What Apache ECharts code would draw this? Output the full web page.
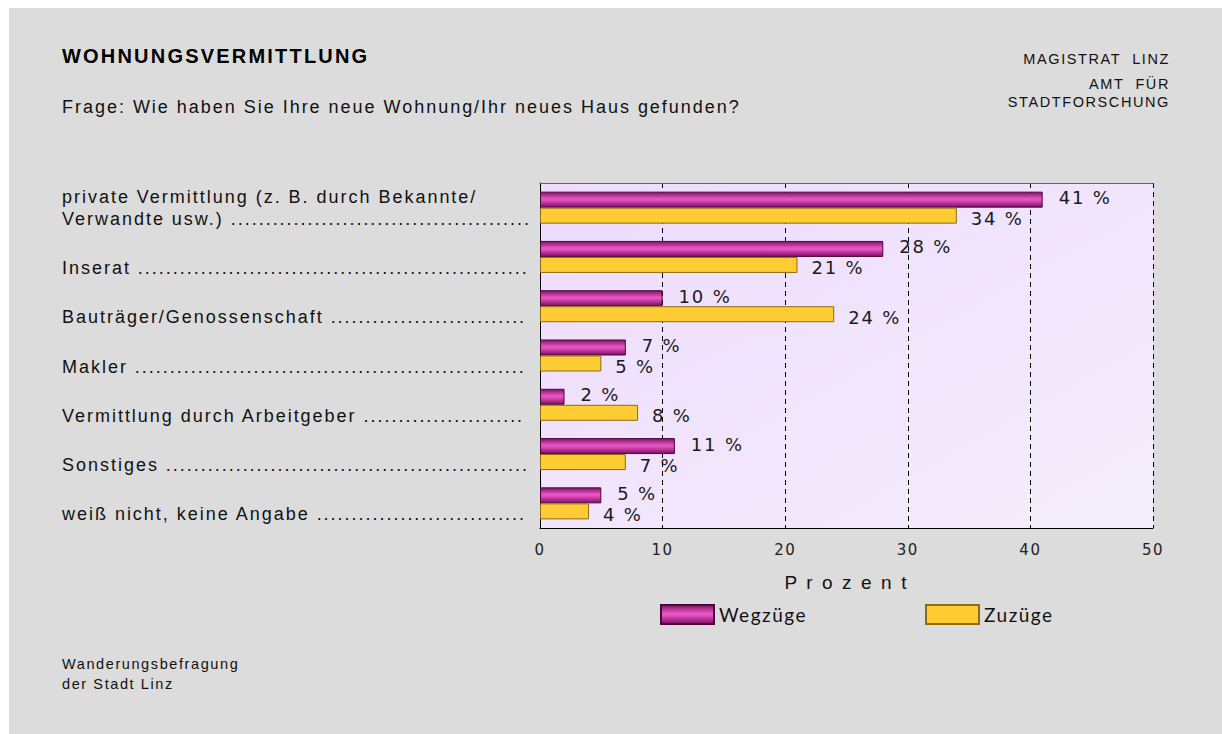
<!DOCTYPE html>
<html>
<head>
<meta charset="utf-8">
<script src="https://cdn.jsdelivr.net/npm/echarts@6/dist/echarts.min.js"></script>
<style>
html, body { margin: 0; padding: 0; background: #fff; }
#chart {
  width: 1222px;
  height: 734px;
  background:
    linear-gradient(#fff, #fff) 0 0 / 100% 8px no-repeat,
    linear-gradient(#fff, #fff) 0 0 / 9px 100% no-repeat,
    #dcdcdc;
}
/* the original print uses loose tracking */
#chart text[style*="Liberation Sans"] { letter-spacing: 0.11em; }
#chart text[style*="Lato"] { letter-spacing: 0.08em; }
#chart text[style*="DejaVu Sans"] { letter-spacing: 0.1em; }
</style>
</head>
<body>
<div id="chart"></div>
<script>
var categories = [
  'private Vermittlung (z. B. durch Bekannte/\nVerwandte usw.)',
  'Inserat',
  'Bauträger/Genossenschaft',
  'Makler',
  'Vermittlung durch Arbeitgeber',
  'Sonstiges',
  'weiß nicht, keine Angabe'
]
var wegzuege = [41, 28, 10, 7, 2, 11, 5]
var zuzuege = [34, 21, 24, 5, 8, 7, 4]
var seriesNames = ['Wegzüge', 'Zuzüge']
var xMin = 0
var xMax = 50
var xStep = 10

var ink = '#111'

// dot leaders after the category names, up to the axis
var measureCtx = document.createElement('canvas').getContext('2d')
measureCtx.font = '18px "Liberation Sans"'
measureCtx.letterSpacing = (18 * 0.11) + 'px'
function withLeader(name) {
  var lines = name.split('\n')
  if (lines.length === 1) lines.unshift(' ')
  var s = lines[lines.length - 1] + ' '
  while (measureCtx.measureText(s + '.').width <= 470) s += '.'
  lines[lines.length - 1] = s
  return lines.join('\n')
}

var chart = echarts.init(document.getElementById('chart'), null, { renderer: 'svg' })

chart.setOption({
  animation: false,
  graphic: [
    { type: 'text', x: 62, y: 56, style: { text: 'WOHNUNGSVERMITTLUNG', fill: '#000', font: 'bold 20px Liberation Sans', textVerticalAlign: 'middle' } },
    { type: 'text', x: 62, y: 107, style: { text: 'Frage: Wie haben Sie Ihre neue Wohnung/Ihr neues Haus gefunden?', fill: ink, font: '18px Liberation Sans', textVerticalAlign: 'middle' } },
    { type: 'text', x: 1170, y: 59, style: { text: 'MAGISTRAT  LINZ', fill: ink, font: '14.5px Liberation Sans', textAlign: 'right', textVerticalAlign: 'middle' } },
    { type: 'text', x: 1170, y: 75, style: { text: 'AMT  FÜR\nSTADTFORSCHUNG', fill: ink, font: '14.5px Liberation Sans', lineHeight: 18, textAlign: 'right', textVerticalAlign: 'top' } },
    { type: 'text', x: 62, y: 654, style: { text: 'Wanderungsbefragung\nder Stadt Linz', fill: ink, font: '14.5px Liberation Sans', lineHeight: 20, textVerticalAlign: 'top' } }
  ],
  legend: [
    {
      data: [seriesNames[0]], left: 655, top: 599, icon: 'rect', itemWidth: 53, itemHeight: 19,
      textStyle: { color: ink, fontFamily: 'Lato', fontSize: 19 }
    },
    {
      data: [seriesNames[1]], left: 920, top: 599, icon: 'rect', itemWidth: 53, itemHeight: 19,
      textStyle: { color: ink, fontFamily: 'Lato', fontSize: 19 }
    }
  ],
  grid: {
    left: 540, right: 69, top: 183, bottom: 206,
    show: true,
    borderWidth: 0,
    backgroundColor: {
      type: 'linear', x: 0, y: 0, x2: 1, y2: 1,
      colorStops: [
        { offset: 0, color: '#eedbff' },
        { offset: 1, color: '#f4eefa' }
      ]
    }
  },
  xAxis: [
    {
      type: 'value', min: xMin, max: xMax, interval: xStep,
      name: 'P r o z e n t', nameLocation: 'middle', nameGap: 45,
      nameTextStyle: { color: ink, fontFamily: 'Liberation Sans', fontSize: 19 },
      axisLine: { show: true, lineStyle: { color: '#000', width: 1 } },
      axisTick: { show: false },
      axisLabel: { color: '#222', fontFamily: 'DejaVu Sans', fontSize: 15, margin: 14 },
      splitLine: { show: true, lineStyle: { color: '#000', width: 1, type: [5, 4] } }
    },
    {
      type: 'value', min: xMin, max: xMax, position: 'top',
      axisLine: { show: true, lineStyle: { color: '#666', width: 1 } },
      axisTick: { show: false }, axisLabel: { show: false }, splitLine: { show: false }
    }
  ],
  yAxis: {
    type: 'category',
    data: categories,
    inverse: true,
    axisLine: { show: true, lineStyle: { color: '#000', width: 1 } },
    axisTick: { show: false },
    splitLine: { show: false },
    axisLabel: {
      interval: 0,
      align: 'left',
      margin: 478,
      color: ink,
      fontFamily: 'Liberation Sans',
      fontSize: 18,
      lineHeight: 22,
      formatter: withLeader
    }
  },
  series: [
    {
      name: seriesNames[0],
      type: 'bar',
      data: wegzuege,
      barWidth: 16,
      barGap: '0%',
      itemStyle: {
        color: {
          type: 'linear', x: 0, y: 0, x2: 0, y2: 1,
          colorStops: [
            { offset: 0, color: '#801466' },
            { offset: 0.45, color: '#ea58c6' },
            { offset: 0.55, color: '#e34dbc' },
            { offset: 1, color: '#7a1060' }
          ]
        },
        borderColor: '#4a0838',
        borderWidth: 1
      },
      label: {
        show: true, position: 'right', distance: 16, formatter: '{c} %',
        color: '#1a1a1a', fontFamily: 'DejaVu Sans', fontSize: 18, offset: [0, -2]
      },
      emphasis: { disabled: true }
    },
    {
      name: seriesNames[1],
      type: 'bar',
      data: zuzuege,
      barWidth: 16,
      barGap: '0%',
      itemStyle: { color: '#ffcc33', borderColor: '#8a6c14', borderWidth: 1 },
      label: {
        show: true, position: 'right', distance: 14, formatter: '{c} %',
        color: '#1a1a1a', fontFamily: 'DejaVu Sans', fontSize: 18, offset: [0, 3]
      },
      emphasis: { disabled: true }
    }
  ]
})
</script>
</body>
</html>
